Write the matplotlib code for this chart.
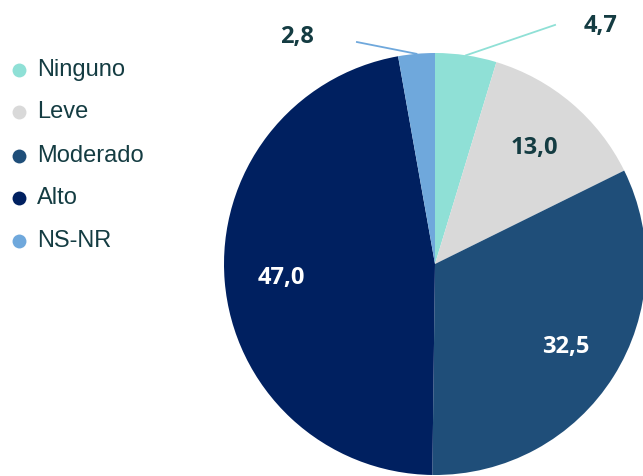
import numpy as np
import matplotlib.pyplot as plt
from matplotlib.lines import Line2D

categorias = ["Ninguno", "Leve", "Moderado", "Alto", "NS-NR"]
valores = [4.7, 13.0, 32.5, 47.0, 2.8]
colores = ["#8fe0d6", "#d9d9d9", "#1f4e79", "#002060", "#6fa8dc"]
color_texto = "#143c42"

fig = plt.figure(figsize=(6.43, 4.76), dpi=100)

# pie axes: center (435, 264) px, radius 211 px
W, H = 643, 476
cx, cy, r = 435, 264, 211
ax = fig.add_axes([(cx - r) / W, (H - cy - r) / H, 2 * r / W, 2 * r / H])
wedges, _ = ax.pie(valores, colors=colores, startangle=90, counterclock=False,
                   radius=1, wedgeprops=dict(linewidth=0))
ax.set_xlim(-1, 1)
ax.set_ylim(-1, 1)
ax.set_aspect("equal")
ax.axis("off")
for w in wedges:
    w.set_clip_on(False)

def fmt(v):
    return f"{v:.1f}".replace(".", ",")

# etiquetas dentro
for w, v, c in zip(wedges, valores, categorias):
    ang = np.deg2rad((w.theta1 + w.theta2) / 2)
    if c in ("Leve", "Moderado", "Alto"):
        col = color_texto if c == "Leve" else "white"
        ax.text(0.73 * np.cos(ang), 0.73 * np.sin(ang) - 0.005, fmt(v), ha="center", va="center",
                fontsize=17, fontweight="bold", color=col, family="Open Sans")

# etiquetas fuera con linea guia
fuera = {"Ninguno": ((0.569, 1.133), (0.785, 1.13)),
         "NS-NR": ((-0.37, 1.052), (-0.655, 1.075))}
for w, v, c, col in zip(wedges, valores, categorias, colores):
    if c in fuera:
        ang = np.deg2rad((w.theta1 + w.theta2) / 2)
        p0 = (np.cos(ang), np.sin(ang))
        p1, pt = fuera[c]
        ax.add_line(Line2D([p0[0], p1[0]], [p0[1], p1[1]], color=col, lw=1.3, clip_on=False))
        ax.text(pt[0], pt[1], fmt(v), ha="center", va="center", fontsize=17,
                fontweight="bold", color=color_texto, family="Open Sans", clip_on=False)

# leyenda
lax = fig.add_axes([0, 0, 1, 1])
lax.set_xlim(0, W)
lax.set_ylim(H, 0)
lax.axis("off")
ys = [70, 112, 156, 198, 241]
for y, c, col in zip(ys, categorias, colores):
    lax.scatter([19], [y], s=100, color=col, zorder=3, linewidths=0)
    lax.text(37, y, c, ha="left", va="center", fontsize=17, color=color_texto,
             family="Liberation Sans")

fig.savefig("out.png", dpi=100)
